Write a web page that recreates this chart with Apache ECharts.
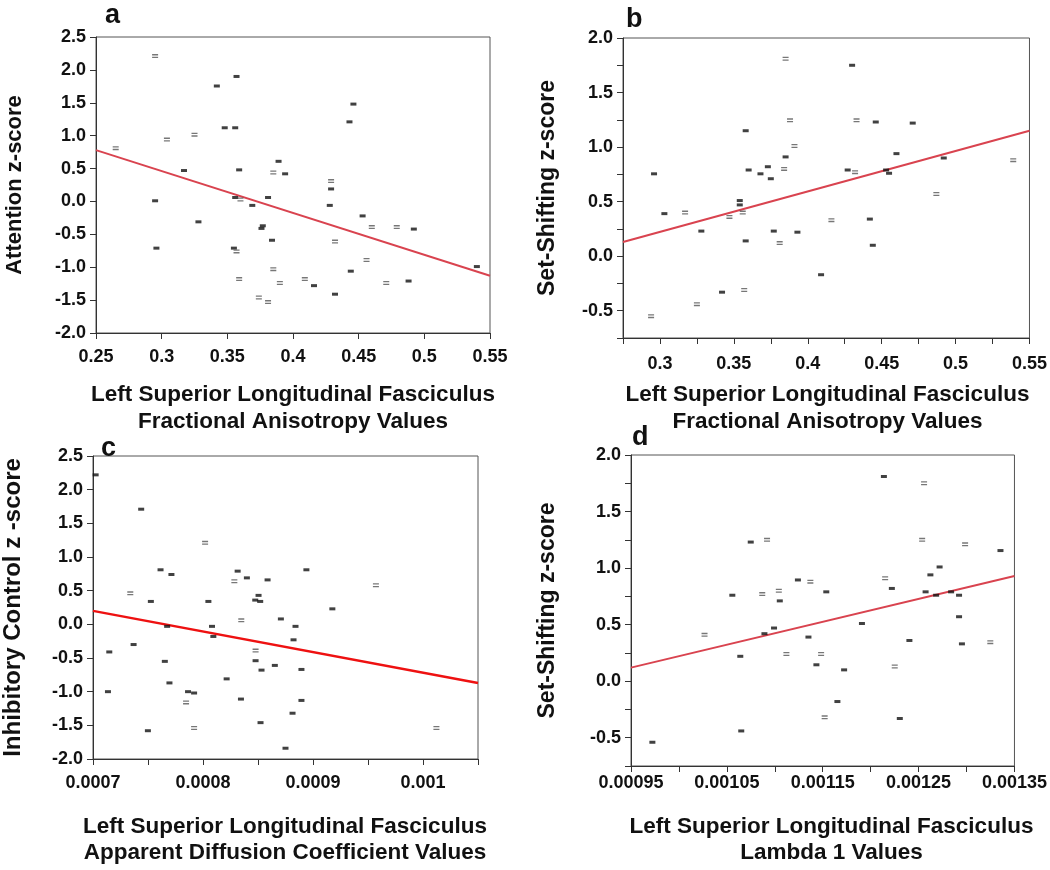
<!DOCTYPE html>
<html>
<head>
<meta charset="utf-8">
<script src="https://cdn.jsdelivr.net/npm/echarts/dist/echarts.min.js"></script>
<style>
html,body{margin:0;padding:0;background:#fff}
#main{width:1050px;height:870px}
</style>
</head>
<body>
<div id="main"></div>
<script>
// panel a: Attention vs FA
var aSolid = [[0.357,1.90],[0.342,1.755],[0.446,1.48],[0.443,1.21],[0.348,1.12],[0.356,1.12],[0.317,0.47],[0.359,0.48],[0.389,0.61],[0.394,0.42],
    [0.429,0.19],[0.428,-0.06],[0.295,0.01],[0.356,0.06],[0.381,0.06],[0.369,-0.06],[0.453,-0.22],[0.492,-0.42],[0.328,-0.31],[0.377,-0.37],
    [0.376,-0.41],[0.384,-0.59],[0.296,-0.71],[0.355,-0.71],[0.540,-0.99],[0.444,-1.06],[0.416,-1.28],[0.488,-1.21],[0.432,-1.41]];
var aHollow = [[0.295,2.21],[0.325,1.015],[0.304,0.94],[0.265,0.81],[0.385,0.44],[0.429,0.31],[0.360,0.03],[0.460,-0.39],[0.479,-0.39],
    [0.432,-0.61],[0.357,-0.76],[0.456,-0.89],[0.385,-1.03],[0.359,-1.18],[0.390,-1.24],[0.409,-1.18],[0.471,-1.24],[0.374,-1.46],[0.381,-1.53]];
var aFit = [[0.25,0.78],[0.55,-1.13]];

// panel b: Set-Shifting vs FA
var bSolid = [[0.430,1.75],[0.446,1.23],[0.471,1.22],[0.358,1.15],[0.385,0.91],[0.460,0.94],[0.492,0.90],[0.373,0.82],[0.360,0.79],[0.427,0.79],
    [0.453,0.79],[0.455,0.76],[0.296,0.755],[0.368,0.755],[0.375,0.71],[0.354,0.51],[0.354,0.47],[0.303,0.39],[0.442,0.34],[0.328,0.23],
    [0.377,0.23],[0.393,0.22],[0.358,0.14],[0.444,0.10],[0.409,-0.17],[0.342,-0.33]];
var bHollow = [[0.385,1.81],[0.388,1.245],[0.433,1.245],[0.391,1.01],[0.539,0.88],[0.384,0.80],[0.432,0.77],[0.487,0.57],[0.356,0.40],
    [0.317,0.40],[0.347,0.36],[0.416,0.33],[0.381,0.12],[0.357,-0.31],[0.325,-0.44],[0.294,-0.55]];
var bFit = [[0.275,0.13],[0.55,1.15]];

// panel c: Inhibitory Control vs ADC
var cSolid = [[0.0007024,2.22],[0.0007438,1.71],[0.0007614,0.81],[0.0007713,0.74],[0.0008315,0.79],[0.0008399,0.69],[0.0008587,0.66],[0.0008940,0.81],
    [0.0007526,0.34],[0.0008049,0.34],[0.0008475,0.36],[0.0008505,0.43],[0.0008520,0.34],[0.0009176,0.23],[0.0008708,0.08],[0.0007674,-0.03],
    [0.0008082,-0.03],[0.0008841,-0.03],[0.0008094,-0.18],[0.0008823,-0.23],[0.0007369,-0.30],[0.0007148,-0.41],[0.0007653,-0.55],[0.0008478,-0.54],
    [0.0008653,-0.61],[0.0008532,-0.68],[0.0008895,-0.67],[0.0007695,-0.87],[0.0008215,-0.81],[0.0007136,-1.00],[0.0007864,-1.00],[0.0007919,-1.02],
    [0.0008345,-1.11],[0.0008895,-1.13],[0.0008814,-1.32],[0.0008523,-1.46],[0.0007499,-1.58],[0.000875,-1.84]];
var cHollow = [[0.0008019,1.21],[0.0008285,0.64],[0.0009572,0.58],[0.0007339,0.46],[0.0008348,0.06],[0.0008478,-0.39],[0.0007846,-1.16],
    [0.0007919,-1.54],[0.0010122,-1.54]];
var cFit = [[0.0007,0.20],[0.00105,-0.87]];

// panel d: Set-Shifting vs Lambda 1
var dSolid = [[0.0012138,1.81],[0.0010749,1.23],[0.0013354,1.155],[0.0012719,1.01],[0.0012623,0.94],[0.0011241,0.895],[0.0012221,0.82],[0.0010557,0.76],
    [0.0011537,0.79],[0.0012573,0.79],[0.0012683,0.76],[0.0012839,0.79],[0.0012922,0.76],[0.0011052,0.71],[0.0012922,0.57],[0.0011909,0.51],
    [0.0010992,0.47],[0.0010892,0.42],[0.0011351,0.39],[0.0012404,0.36],[0.0012952,0.33],[0.0010640,0.22],[0.0011434,0.145],[0.0011723,0.10],
    [0.0011653,-0.18],[0.0012304,-0.33],[0.0010650,-0.44],[0.0009723,-0.54]];
var dHollow = [[0.0012557,1.75],[0.0010919,1.25],[0.0012537,1.25],[0.0012985,1.21],[0.0012151,0.91],[0.0011371,0.88],[0.0011042,0.80],[0.0010869,0.77],
    [0.0010267,0.41],[0.0013248,0.345],[0.0011121,0.24],[0.0011483,0.24],[0.0012251,0.13],[0.0011520,-0.32]];
var dFit = [[0.00095,0.12],[0.00135,0.93]];

var yNames = ['Attention z-score', 'Set-Shifting z-score', 'Inhibitory Control z -score', 'Set-Shifting z-score'];
var xNames = [['Left Superior Longitudinal Fasciculus', 'Fractional Anisotropy Values'],
    ['Left Superior Longitudinal Fasciculus', 'Fractional Anisotropy Values'],
    ['Left Superior Longitudinal Fasciculus', 'Apparent Diffusion Coefficient Values'],
    ['Left Superior Longitudinal Fasciculus', 'Lambda 1 Values']];
var letters = ['a', 'b', 'c', 'd'];

var plain = "'Liberation Sans',Arial,sans-serif";

var grids = [
    {left: 96, top: 37, width: 394, height: 296},
    {left: 623, top: 38, width: 409, height: 300},
    {left: 92, top: 456, width: 386, height: 303},
    {left: 631, top: 455, width: 401, height: 311}
];
var xScale = [
    {min: 0.25, max: 0.55, interval: 0.05, fmt: function(v){ return String(parseFloat(v.toFixed(2))); }},
    {min: 0.275, max: 0.55, interval: 0.025, fmt: function(v){ var n = Math.round(v * 1000); return n % 50 == 0 ? String(n / 1000) : ''; }},
    {min: 0.0007, max: 0.00105, interval: 0.00005, fmt: function(v){ var n = Math.round(v * 1e5); return n % 10 == 0 ? String(n / 1e5) : ''; }},
    {min: 0.00095, max: 0.00135, interval: 0.00005, fmt: function(v){ var n = Math.round(v * 1e5); return n % 10 == 5 ? String(n / 1e5) : ''; }}
];
var halfOnly = function(v){ var n = Math.round(v * 100); return n % 50 == 0 ? (n / 100).toFixed(1) : ''; };
var yScale = [
    {min: -2, max: 2.5, interval: 0.5, fmt: function(v){ return v.toFixed(1); }},
    {min: -0.75, max: 2, interval: 0.25, fmt: halfOnly},
    {min: -2, max: 2.5, interval: 0.5, fmt: function(v){ return v.toFixed(1); }},
    {min: -0.75, max: 2, interval: 0.25, fmt: halfOnly}
];
var yGap = [70, 64, 68, 72];
var yNameSize = [22, 23, 24, 23];
var xLabelGap = [15, 17, 15, 8];
var titleY = [[395, 422], [395, 422], [827, 853], [827, 853]];
var solids = [aSolid, bSolid, cSolid, dSolid];
var hollows = [aHollow, bHollow, cHollow, dHollow];
var fits = [aFit, bFit, cFit, dFit];
var fitColor = ['#d9434f', '#d9434f', '#ee1111', '#d9434f'];
var fitWidth = [2, 2, 2.5, 2];
var letterPos = [[105, 2], [626, 6], [101, 435], [632, 424]];

var axisLine = {onZero: false, lineStyle: {color: '#333', width: 1}};
var axisTick = {show: true, length: 6, lineStyle: {color: '#333'}};

var option = {
    animation: false,
    backgroundColor: '#fff',
    grid: [], xAxis: [], yAxis: [], series: [], graphic: []
};
for (var i = 0; i < 4; i++) {
    var g = grids[i];
    option.grid.push({left: g.left, top: g.top, width: g.width, height: g.height,
        show: true, borderColor: '#555', borderWidth: 1});
    option.xAxis.push({
        type: 'value', gridIndex: i,
        min: xScale[i].min, max: xScale[i].max, interval: xScale[i].interval,
        axisLine: axisLine, axisTick: axisTick, splitLine: {show: false},
        axisLabel: {formatter: xScale[i].fmt, margin: xLabelGap[i], color: '#111', fontFamily: plain, fontWeight: 'bold', fontSize: 18}
    });
    option.yAxis.push({
        type: 'value', gridIndex: i,
        min: yScale[i].min, max: yScale[i].max, interval: yScale[i].interval,
        axisLine: axisLine, axisTick: axisTick, splitLine: {show: false},
        axisLabel: {formatter: yScale[i].fmt, margin: 10, color: '#111', fontFamily: plain, fontWeight: 'bold', fontSize: 18},
        name: yNames[i], nameLocation: 'middle', nameGap: yGap[i],
        nameTextStyle: {fontFamily: plain, fontWeight: 'bold', fontSize: yNameSize[i], color: '#111'}
    });
    option.series.push({
        type: 'scatter', xAxisIndex: i, yAxisIndex: i, data: solids[i],
        symbol: 'rect', symbolSize: [6, 3], itemStyle: {color: '#111'}, silent: true
    });
    option.series.push({
        type: 'scatter', xAxisIndex: i, yAxisIndex: i, data: hollows[i],
        symbol: 'path://M0,0H10V2H0Z M0,4H10V6H0Z', symbolSize: [6, 4], symbolKeepAspect: false,
        itemStyle: {color: '#555'}, silent: true
    });
    option.series.push({
        type: 'line', xAxisIndex: i, yAxisIndex: i, data: fits[i], showSymbol: false, silent: true,
        lineStyle: {color: fitColor[i], width: fitWidth[i]}, z: 1
    });
    option.graphic.push({
        type: 'text', left: letterPos[i][0], top: letterPos[i][1],
        style: {text: letters[i], font: 'bold 27px ' + plain, fill: '#111'}
    });
    // two-line x titles
    for (var k = 0; k < 2; k++) {
        option.graphic.push({
            type: 'text', x: g.left + g.width / 2, y: titleY[i][k],
            style: {text: xNames[i][k], font: 'bold 22.5px ' + plain, fill: '#111', align: 'center', verticalAlign: 'middle'}
        });
    }
}

var myChart = echarts.init(document.getElementById('main'));
myChart.setOption(option);
</script>
</body>
</html>
